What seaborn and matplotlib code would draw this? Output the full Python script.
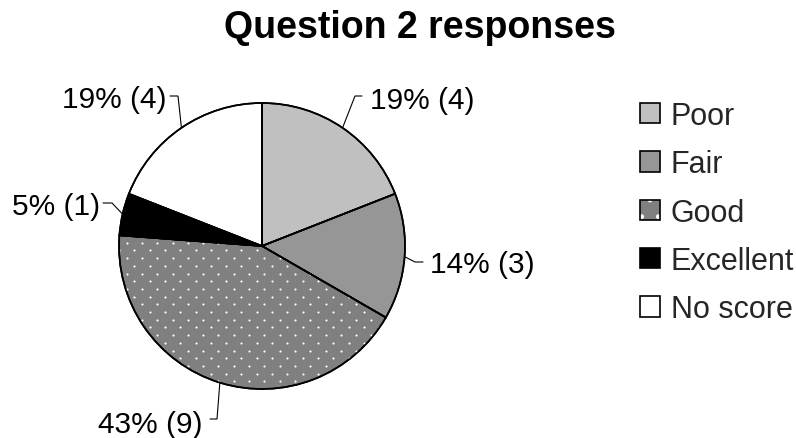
import numpy as np
import matplotlib
matplotlib.use('Agg')
import matplotlib.pyplot as plt
import seaborn as sns
from matplotlib.patches import Patch
from matplotlib.legend_handler import HandlerTuple

# ---- data ----
categories = ['Poor', 'Fair', 'Good', 'Excellent', 'No score']
counts = [4, 3, 9, 1, 4]
title = 'Question 2 responses'

# ---- style ----
sns.set_theme(style='white')
plt.rcParams['font.family'] = ['Liberation Sans', 'DejaVu Sans']
plt.rcParams['hatch.linewidth'] = 1.0

colors = ['#c0c0c0', '#969696', '#808080', '#000000', '#ffffff']
W, H = 796, 439
fig = plt.figure(figsize=(W / 100, H / 100), dpi=100)
ax = fig.add_axes([0, 0, 1, 1])
cx, cy, R = 262, H - 247, 143
total = sum(counts)

wedges, _ = ax.pie(counts, colors=colors, startangle=90, counterclock=False,
                   center=(cx, cy), radius=R, frame=True,
                   wedgeprops=dict(edgecolor='black', linewidth=1.2))
ax.set_xlim(0, W)
ax.set_ylim(0, H)
ax.set_aspect('equal')
ax.axis('off')

# dotted fill pattern for "Good"
gw = wedges[categories.index('Good')]
xs = np.arange(cx - R, cx + R + 16, 15.3)
rows = np.arange(cy - R, cy + R + 8, 7.7)
px, py = [], []
for i, yv in enumerate(rows):
    for xv in xs:
        px.append(xv + (i % 2) * 7.65)
        py.append(yv)
sc = ax.scatter(px, py, s=2.4, c='white', linewidths=0, zorder=gw.get_zorder() + 0.05)
sc.set_clip_path(gw)
# redraw outline over dots
for w in wedges:
    w.set_zorder(1)
outline = ax.pie(counts, colors=['none'] * len(counts), startangle=90, counterclock=False,
                 center=(cx, cy), radius=R, frame=True,
                 wedgeprops=dict(edgecolor='black', linewidth=1.2, zorder=3))
ax.set_xlim(0, W)
ax.set_ylim(0, H)
ax.set_aspect('equal')
ax.axis('off')

# ---- labels with leader lines (pixel layout, y from top) ----
layout = [
    dict(elbow=(355, 97), end=(362, 97), text=(370, 109), ha='left'),
    dict(elbow=(415, 263), end=(423, 263), text=(430, 273), ha='left'),
    dict(elbow=(217, 420), end=(210, 420), text=(202, 433), ha='right'),
    dict(elbow=(112, 204), end=(103, 204), text=(100, 215), ha='right'),
    dict(elbow=(178, 97), end=(170, 97), text=(167, 108), ha='right'),
]
for w, c, lay in zip(wedges, counts, layout):
    th = np.deg2rad((w.theta1 + w.theta2) / 2)
    ex, ey = cx + R * np.cos(th), cy + R * np.sin(th)
    (bx, by), (fx, fy) = lay['elbow'], lay['end']
    ax.plot([ex, bx, fx], [ey, H - by, H - fy], color='black', lw=0.8,
            solid_joinstyle='miter', zorder=4, clip_on=False)
    pct = round(100 * c / total)
    tx, ty = lay['text']
    ax.text(tx, H - ty, f'{pct}% ({c})', ha=lay['ha'], va='baseline',
            fontsize=21.5, color='black')

# ---- title ----
fig.text(420 / W, 1 - 38 / H, title, ha='center', va='baseline',
         fontsize=27, fontweight='bold', color='black')

# ---- legend ----
handles = []
for cat, col in zip(categories, colors):
    if cat == 'Good':
        handles.append((Patch(facecolor=col, edgecolor='white', linewidth=0, hatch='.'),
                        Patch(facecolor='none', edgecolor='black', linewidth=1.2)))
    else:
        handles.append(Patch(facecolor=col, edgecolor='black', linewidth=1.2))
leg = fig.legend(handles, categories, loc='upper left',
                 bbox_to_anchor=(640 / W, 1 - 102 / H), bbox_transform=fig.transFigure,
                 handler_map={tuple: HandlerTuple(ndivide=1, pad=0)},
                 fontsize=22, handlelength=0.65, handleheight=0.65,
                 handletextpad=0.35, labelspacing=0.6, frameon=False,
                 borderpad=0, borderaxespad=0)

fig.savefig('out.png', dpi=100, facecolor='white')
